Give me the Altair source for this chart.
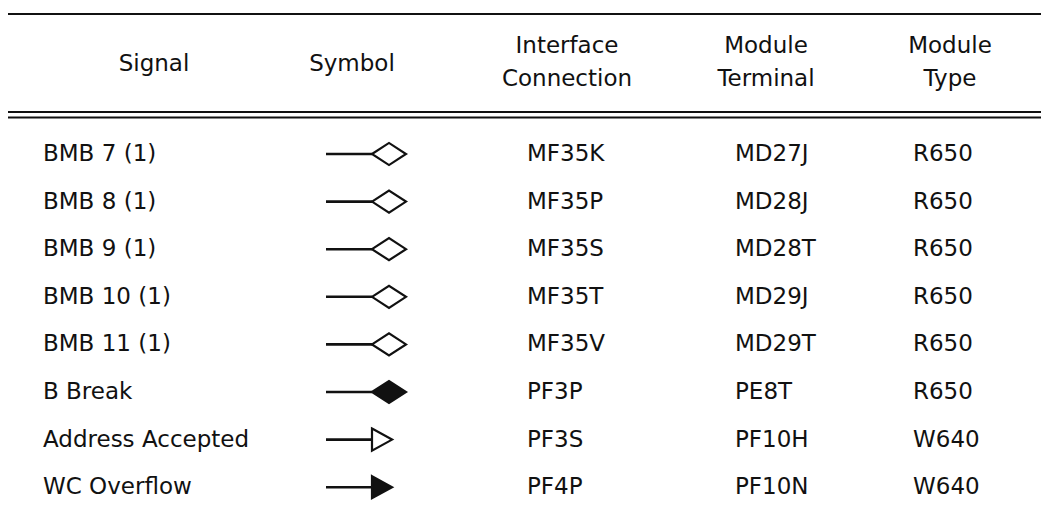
import altair as alt
import pandas as pd

# ---------------- data ----------------
headers = ["Signal", "Symbol", "Interface\nConnection", "Module\nTerminal", "Module\nType"]
signals = ["BMB 7 (1)", "BMB 8 (1)", "BMB 9 (1)", "BMB 10 (1)", "BMB 11 (1)",
           "B Break", "Address Accepted", "WC Overflow"]
symbols = ["open_diamond", "open_diamond", "open_diamond", "open_diamond", "open_diamond",
           "filled_diamond", "open_triangle", "filled_triangle"]
interface = ["MF35K", "MF35P", "MF35S", "MF35T", "MF35V", "PF3P", "PF3S", "PF4P"]
terminal = ["MD27J", "MD28J", "MD28T", "MD29J", "MD29T", "PE8T", "PF10H", "PF10N"]
mtype = ["R650", "R650", "R650", "R650", "R650", "R650", "W640", "W640"]

# ---------------- layout ----------------
W, H = 1033, 498
X_DOM = [8, 8 + W]
Y_DOM = [8, 8 + H]
ROW0, ROW_STEP = 154, 47.6
HEADER_X = [154, 352, 567, 766, 950]
HEADER_Y = [64, 64, 46, 46, 46]   # first-line position of each header
CELL_X = {"signal": 43, "interface": 527, "terminal": 735, "mtype": 913}
SYM_LINE = (326, 372)
TABLE_LINES = [(8, 1045, 14), (8, 1049, 112), (8, 1049, 117.5)]
FONT = "DejaVu Sans"
FSIZE = 23
INK = "#111111"

xs = alt.Scale(domain=X_DOM, nice=False, zero=False)
ys = alt.Scale(domain=Y_DOM, nice=False, zero=False, reverse=True)

row_y = [ROW0 + i * ROW_STEP for i in range(len(signals))]

cells = []
for col, vals in [("signal", signals), ("interface", interface),
                  ("terminal", terminal), ("mtype", mtype)]:
    for v, y in zip(vals, row_y):
        cells.append({"x": CELL_X[col], "y": y, "text": v})
cells_df = pd.DataFrame(cells)

head_df = pd.DataFrame({"x": HEADER_X, "y": HEADER_Y, "text": headers})

sym_df = pd.DataFrame({"kind": symbols, "x0": [SYM_LINE[0]] * len(symbols),
                       "x1": [SYM_LINE[1]] * len(symbols), "y": row_y})

lines_df = pd.DataFrame(TABLE_LINES, columns=["x0", "x1", "y"])

X = lambda f: alt.X(f, scale=xs, axis=None)
Y = lambda f: alt.Y(f, scale=ys, axis=None)

header_layer = alt.Chart(head_df).mark_text(
    font=FONT, fontSize=FSIZE, align="center", baseline="middle",
    lineBreak="\n", lineHeight=33, color=INK
).encode(x=X("x:Q"), y=Y("y:Q"), text="text:N")

cell_layer = alt.Chart(cells_df).mark_text(
    font=FONT, fontSize=FSIZE, align="left", baseline="middle", color=INK
).encode(x=X("x:Q"), y=Y("y:Q"), text="text:N")

rule_layer = alt.Chart(lines_df).mark_rule(color=INK, strokeWidth=2).encode(
    x=X("x0:Q"), x2="x1:Q", y=Y("y:Q"))

stem_layer = alt.Chart(sym_df).mark_rule(color=INK, strokeWidth=2.6).encode(
    x=X("x0:Q"), x2="x1:Q", y=Y("y:Q"))

diamond = "M0,0L1,-0.65L2,0L1,0.65Z"
triangle = "M0,-0.65L1.18,0L0,0.65Z"
kinds = ["open_diamond", "filled_diamond", "open_triangle", "filled_triangle"]

head_layer = alt.Chart(sym_df).mark_point(
    stroke=INK, strokeWidth=2.2, opacity=1, filled=False, size=1156
).encode(
    x=X("x1:Q"), y=Y("y:Q"),
    shape=alt.Shape("kind:N", scale=alt.Scale(domain=kinds,
                    range=[diamond, diamond, triangle, triangle]), legend=None),
    fill=alt.Fill("kind:N", scale=alt.Scale(domain=kinds,
                  range=["white", INK, "white", INK]), legend=None),
)

chart = alt.layer(rule_layer, stem_layer, head_layer, header_layer, cell_layer).properties(
    width=W, height=H, padding=0, autosize=alt.AutoSizeParams(type="none"),
    background="white"
).configure_view(stroke=None)

chart.save("out.html", embed_options={"renderer": "svg", "actions": False})
